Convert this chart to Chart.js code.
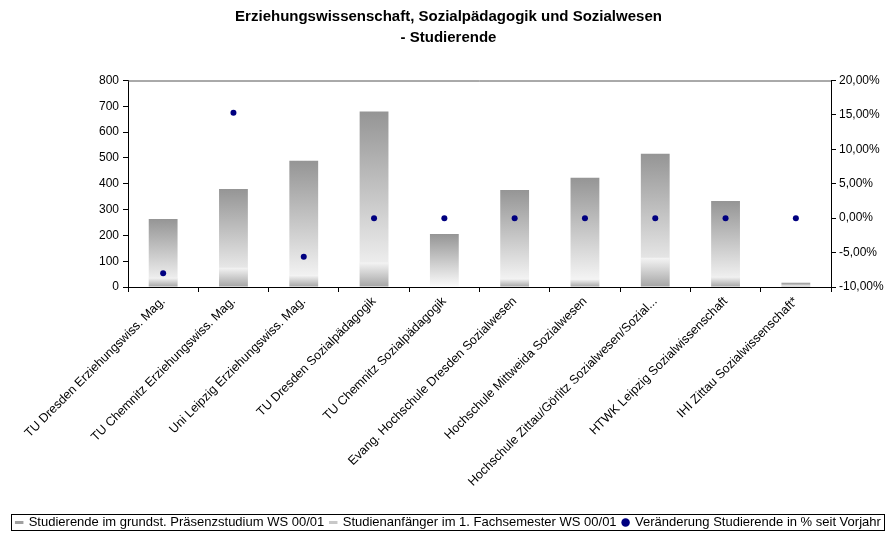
<!DOCTYPE html>
<html>
<head>
<meta charset="utf-8">
<script src="https://cdn.jsdelivr.net/npm/chart.js@4.4.1/dist/chart.umd.min.js"></script>
<style>
  html, body { margin: 0; padding: 0; background: #fff; }
  #wrap { width: 887px; height: 541px; }
</style>
</head>
<body>
<div id="wrap"><canvas id="chart"></canvas></div>
<script>
const categories = [
  'TU Dresden Erziehungswiss. Mag.',
  'TU Chemnitz Erziehungswiss. Mag.',
  'Uni Leipzig Erziehungswiss. Mag.',
  'TU Dresden Sozialpädagogik',
  'TU Chemnitz Sozialpädagogik',
  'Evang. Hochschule Dresden Sozialwesen',
  'Hochschule Mittweida Sozialwesen',
  'Hochschule Zittau/Görlitz Sozialwesen/Sozial...',
  'HTWK Leipzig Sozialwissenschaft',
  'IHI Zittau Sozialwissenschaft*'
];
const studierende = [263, 380, 489, 680, 205, 376, 423, 516, 333, 16];
const anfaenger = [36, 75, 45, 95, 0, 32, 30, 113, 40, 5];
const veraenderung = [-8.0, 15.3, -5.6, 0, 0, 0, 0, 0, 0, 0];

const leftTicks = { min: 0, max: 800, step: 100 };
const rightTicks = { min: -10, max: 20, step: 5 };

const seriesNames = [
  'Studierende im grundst. Präsenzstudium WS 00/01',
  'Studienanfänger im 1. Fachsemester WS 00/01',
  'Veränderung Studierende in % seit Vorjahr'
];

const FONT = 'Arial, "Liberation Sans", sans-serif';

// gradient from colour at bar top to colour at bar bottom
const barGradient = (topColor, bottomColor) => ctx => {
  const { chart, parsed } = ctx;
  if (!chart.chartArea || !parsed) return topColor;
  const y = chart.scales.y;
  const yTop = y.getPixelForValue(parsed.y);
  const yBot = y.getPixelForValue(0);
  if (Math.abs(yBot - yTop) < 1) return bottomColor;
  const g = chart.ctx.createLinearGradient(0, yTop, 0, yBot);
  g.addColorStop(0, topColor);
  g.addColorStop(1, bottomColor);
  return g;
};

const frame = {
  id: 'frame',
  afterDatasetsDraw: chart => {
    const { ctx, chartArea: a } = chart;
    ctx.save();
    ctx.strokeStyle = '#555';
    ctx.lineWidth = 1;
    ctx.beginPath();
    ctx.moveTo(a.left, a.top + 0.5);
    ctx.lineTo(a.right, a.top + 0.5);
    ctx.stroke();
    ctx.restore();
  },
  afterDraw: chart => {
    const boxes = chart.legend.legendHitBoxes;
    if (!boxes || !boxes.length) return;
    const left = Math.min(...boxes.map(b => b.left)) - 5;
    const right = Math.max(...boxes.map(b => b.left + b.width)) + 3;
    const top = Math.min(...boxes.map(b => b.top)) - 2;
    const bottom = Math.max(...boxes.map(b => b.top + b.height)) + 1;
    const { ctx } = chart;
    ctx.save();
    ctx.strokeStyle = '#000';
    ctx.lineWidth = 1;
    ctx.strokeRect(Math.round(left) + 0.5, Math.round(top) + 0.5, Math.round(right - left), Math.round(bottom - top));
    ctx.restore();
  }
};

new Chart(document.getElementById('chart'), {
  type: 'bar',
  data: {
    labels: categories,
    datasets: [
      {
        type: 'line',
        label: seriesNames[2],
        data: veraenderung,
        yAxisID: 'y1',
        showLine: false,
        pointRadius: 3,
        pointBackgroundColor: '#000080',
        pointBorderColor: '#000080',
        pointBorderWidth: 0,
        order: 0
      },
      {
        label: seriesNames[1],
        data: anfaenger,
        yAxisID: 'y',
        grouped: false,
        backgroundColor: barGradient('#f4f4f4', '#a4a4a4'),
        barPercentage: 0.41,
        categoryPercentage: 1,
        order: 1
      },
      {
        label: seriesNames[0],
        data: studierende,
        yAxisID: 'y',
        grouped: false,
        backgroundColor: barGradient('#959595', '#fbfbfb'),
        barPercentage: 0.41,
        categoryPercentage: 1,
        order: 2
      }
    ]
  },
  options: {
    responsive: true,
    maintainAspectRatio: false,
    animation: false,
    layout: { padding: { left: 10, right: 0, top: 0, bottom: 2 } },
    plugins: {
      title: {
        display: true,
        text: ['Erziehungswissenschaft, Sozialpädagogik und Sozialwesen', '- Studierende'],
        color: '#000',
        font: { family: FONT, size: 15, weight: 'bold', lineHeight: 1.35 },
        padding: { top: 7, bottom: 33 }
      },
      legend: {
        position: 'bottom',
        labels: {
          color: '#000',
          font: { family: FONT, size: 13 },
          usePointStyle: true,
          boxWidth: 6,
          boxHeight: 6,
          padding: 6,
          generateLabels: () => [
            { text: seriesNames[0], pointStyle: 'line', strokeStyle: '#a0a0a0', fillStyle: '#a0a0a0', lineWidth: 3, datasetIndex: 2 },
            { text: seriesNames[1], pointStyle: 'line', strokeStyle: '#c8c8c8', fillStyle: '#c8c8c8', lineWidth: 3, datasetIndex: 1 },
            { text: seriesNames[2], pointStyle: 'circle', strokeStyle: '#000080', fillStyle: '#000080', lineWidth: 0, datasetIndex: 0 }
          ]
        }
      },
      tooltip: { enabled: false }
    },
    scales: {
      x: {
        afterFit: s => { s.height = 223; },
        grid: { offset: true, drawOnChartArea: false, color: '#000', tickLength: 5 },
        border: { color: '#000', width: 1 },
        ticks: {
          color: '#000',
          font: { family: FONT, size: 12.5 },
          maxRotation: 45,
          minRotation: 45,
          autoSkip: false,
          padding: 2
        }
      },
      y: {
        position: 'left',
        min: leftTicks.min,
        max: leftTicks.max,
        afterFit: s => { s.width = 118; },
        grid: { drawOnChartArea: false, color: '#000', tickLength: 5 },
        border: { color: '#000', width: 1 },
        ticks: {
          stepSize: leftTicks.step,
          color: '#000',
          font: { family: FONT, size: 12 },
          padding: 4
        }
      },
      y1: {
        position: 'right',
        min: rightTicks.min,
        max: rightTicks.max,
        afterFit: s => { s.width = 56; },
        grid: { drawOnChartArea: false, color: '#000', tickLength: 5 },
        border: { color: '#000', width: 1 },
        ticks: {
          stepSize: rightTicks.step,
          color: '#000',
          font: { family: FONT, size: 12 },
          padding: 3,
          callback: v => v.toFixed(2).replace('.', ',') + '%'
        }
      }
    }
  },
  plugins: [frame]
});
</script>
</body>
</html>
